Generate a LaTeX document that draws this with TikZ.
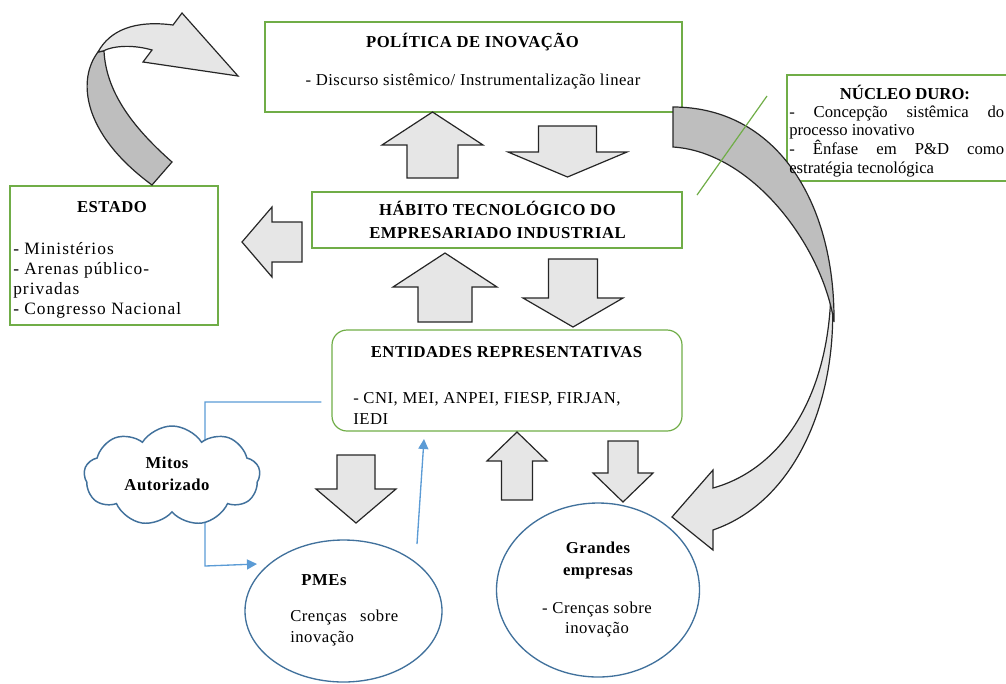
\documentclass[tikz,border=0pt]{standalone}
\usepackage{fontspec}
\setmainfont{Liberation Serif}
\newfontfamily\spacedfont[LetterSpace=3]{Liberation Serif}
\newfontfamily\widefont[LetterSpace=6]{Liberation Serif}
\usetikzlibrary{shapes.geometric,shapes.symbols,arrows.meta}

\definecolor{boxgreen}{RGB}{112,173,71}
\definecolor{arrowfill}{RGB}{230,230,230}
\definecolor{backfill}{RGB}{190,190,190}
\definecolor{linkblue}{RGB}{91,155,213}
\definecolor{shapeblue}{RGB}{65,113,156}
\newcommand{\pxu}{0.75pt}

% block arrow: x, tip y, head base y, tail y, half shaft, half head
\newcommand{\vblock}[6]{%
  \draw[blockarrow] (#1,#2) -- (#1+#6,#3) -- (#1+#5,#3) -- (#1+#5,#4)
    -- (#1-#5,#4) -- (#1-#5,#3) -- (#1-#6,#3) -- cycle;}

\tikzset{
  greenbox/.style 2 args={draw=boxgreen, line width=0.9pt, minimum width=#1*\pxu, minimum height=#2*\pxu, inner sep=0pt},
  bubble/.style 2 args={ellipse, draw=shapeblue, line width=1pt, minimum width=#1*\pxu, minimum height=#2*\pxu, inner sep=0pt},
  blockarrow/.style={fill=arrowfill, draw=black!85, line width=0.9pt, line join=miter},
  bluelink/.style={draw=linkblue, line width=1pt, -{Triangle[length=7.5pt,width=7.5pt]}},
  txt/.style={inner sep=0pt, anchor=base, font=\spacedfont\fontsize{12.5}{15}\selectfont},
  txtb/.style={txt, font=\spacedfont\bfseries\fontsize{12.5}{15}\selectfont},
  plain/.style={txt, anchor=base west, font=\fontsize{12.5}{15}\selectfont},
}

\begin{document}
\begin{tikzpicture}[x=0.75pt, y=-0.75pt]
\useasboundingbox (0,0) rectangle (1006,683);
\clip (0,0) rectangle (1006,683);

% boxes
\node[greenbox={417}{90}] (politica) at (473.5,67) {};
\node[greenbox={225}{106}] (nucleo) at (899.5,128) {};
\node[greenbox={208}{139}] (estado) at (114,255.5) {};
\node[greenbox={370}{56}] (habito) at (497,220) {};
\node[greenbox={350}{101}, rounded corners=15*\pxu] (entidades) at (507,380.5) {};

% block arrows
\vblock{432.5}{112}{145}{178}{25.5}{50.5}
\vblock{567.5}{177}{152}{126}{29}{59.5}
\vblock{445}{253}{287}{322}{27}{52}
\vblock{573}{327}{298}{259}{24.5}{50}
\vblock{356}{523}{489}{455}{19}{40}
\vblock{517}{432}{461}{500}{15.5}{30}
\vblock{623}{502}{473}{441}{15}{30}
\draw[blockarrow] (242,242) -- (272,207) -- (272,222) -- (302,222)
  -- (302,262) -- (272,262) -- (272,277) -- cycle;

% curved arrow estado -> politica
\draw[blockarrow, fill=backfill] (98,52) .. controls (78,78) and (80,132) .. (152,185)
  -- (172,162) .. controls (130,125) and (106,90) .. (104,51) -- cycle;
\draw[blockarrow] (98,52) .. controls (110,30) and (135,20) .. (173,25) -- (182,13)
  -- (238,76) -- (143,62) -- (152,50) .. controls (135,45) and (115,45) .. (103,51) -- cycle;

% curved arrow politica -> grandes empresas
\draw[blockarrow] (831,280) .. controls (842,390) and (800,500) .. (713,530) -- (713,550)
  -- (672,517) -- (713,470) -- (713,488) .. controls (785,468) and (832,390) .. (831,280) -- cycle;
\draw[blockarrow, fill=backfill] (673,107) .. controls (775,107) and (835,200) .. (834,322)
  .. controls (822,245) and (752,152) .. (673,147) -- cycle;

\coordinate (lead-a) at (697,195);
\coordinate (lead-b) at (767,96);
\draw[boxgreen, line width=0.9pt] (lead-a) -- (lead-b);

% links
\coordinate (bend-top) at (205,402);
\coordinate (bend-bot) at (205,566);
\coordinate (pmes-in) at (257,564);
\coordinate (pmes-out) at (417,544);
\coordinate (ent-in) at (424,439);
\draw[bluelink] ([xshift=-10*\pxu]entidades.west |- bend-top) -- (bend-top) -- (bend-bot) -- (pmes-in);
\draw[bluelink] (pmes-out) -- (ent-in);

\node[cloud, cloud puffs=9, cloud puff arc=115, draw=shapeblue, fill=white, line width=1.1pt,
  minimum width=176*\pxu, minimum height=100*\pxu] (mitos) at (172,476) {};
\node[bubble={197}{142}] (pmes) at (343.5,611) {};
\node[bubble={203}{174}] (grandes) at (598,590) {};

% texts
\node[txtb] (pol-title) at (472.5,47) {POLÍTICA DE INOVAÇÃO};
\node[txt] (pol-text) at (473,85) {- Discurso sistêmico/ Instrumentalização linear};
\node[txtb] (hab-1) at (497.5,215) {HÁBITO TECNOLÓGICO DO};
\node[txtb] (hab-2) at (497.5,238) {EMPRESARIADO INDUSTRIAL};
\node[txtb] (est-title) at (112,212) {ESTADO};
\foreach \t [count=\i] in {- Ministérios, - Arenas público-, privadas, - Congresso Nacional}
  \node[txt, anchor=base west, font=\widefont\fontsize{13}{15}\selectfont] (est-\i) at (13,234+20*\i) {\t};
\node[txtb] (ent-title) at (506.5,357) {ENTIDADES REPRESENTATIVAS};
\node[txt, anchor=base west] (ent-1) at (353,403) {- CNI, MEI, ANPEI, FIESP, FIRJAN,};
\node[txt, anchor=base west] (ent-2) at (353,424) {IEDI};
\node[txt, font=\bfseries\fontsize{12.5}{15}\selectfont] (nuc-title) at (905,99) {NÚCLEO DURO:};
\node[plain] (nuc-1) at (789,117) {\makebox[161.25pt][s]{- Concepção sistêmica do}};
\node[plain] (nuc-2) at (789,135) {processo inovativo};
\node[plain] (nuc-3) at (789,154) {\makebox[161.25pt][s]{- Ênfase em P\&D como}};
\node[plain] (nuc-4) at (789,173) {estratégia tecnológica};
\node[txtb] (mitos-1) at (167,468) {Mitos};
\node[txtb] (mitos-2) at (167,490) {Autorizado};
\node[txtb] (pmes-title) at (324,585) {PMEs};
\node[txt, anchor=base west] (pmes-1) at (290,621) {\makebox[81pt][s]{Crenças sobre}};
\node[txt, anchor=base west] (pmes-2) at (290,642) {inovação};
\node[txtb] (gr-1) at (598,553) {Grandes};
\node[txtb] (gr-2) at (598,575) {empresas};
\node[txt] (gr-3) at (597,613) {- Crenças sobre};
\node[txt] (gr-4) at (597,633) {inovação};
\end{tikzpicture}
\end{document}
